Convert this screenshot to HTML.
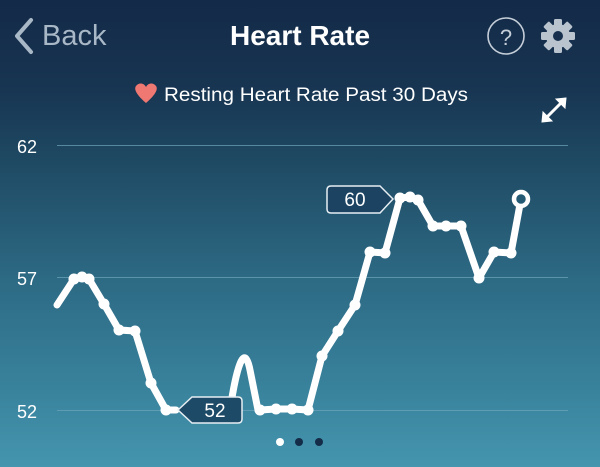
<!DOCTYPE html>
<html><head><style>
html,body{margin:0;padding:0;}
body{width:600px;height:467px;overflow:hidden;background:linear-gradient(180deg,#132a48 0%,#173451 18%,#1f4a64 35%,#2d6a84 60%,#3a849e 85%,#4595ae 100%);font-family:"Liberation Sans",sans-serif;}
svg{position:absolute;left:0;top:0}
</style></head><body>
<svg width="600" height="467" viewBox="0 0 600 467">
<text x="42" y="45" font-size="29" fill="#a9b8c6" font-family="Liberation Sans">Back</text>
<polyline points="31,20 17,36 31,52" fill="none" stroke="#a9b8c6" stroke-width="4" stroke-linecap="round" stroke-linejoin="round"/>
<text x="300" y="45" font-size="28" fill="#fff" font-weight="bold" text-anchor="middle" font-family="Liberation Sans">Heart Rate</text>
<circle cx="506" cy="36" r="18" fill="none" stroke="#c5ced8" stroke-width="1.6"/>
<text x="506" y="45" font-size="22" fill="#c5ced8" text-anchor="middle">?</text>
<g transform="translate(558,36)" fill="#b9c4cf">
<circle r="12"/>
<g><rect x="-4" y="-17" width="8" height="34" rx="1.5"/><rect x="-4" y="-17" width="8" height="34" rx="1.5" transform="rotate(45)"/><rect x="-4" y="-17" width="8" height="34" rx="1.5" transform="rotate(90)"/><rect x="-4" y="-17" width="8" height="34" rx="1.5" transform="rotate(135)"/></g>
<circle r="5" fill="#16304d"/>
</g>
<path d="M146,103 C139,97 133,90 136,86 C139,82 144,83 146,87 C148,83 153,82 156,86 C159,90 153,97 146,103Z" fill="#f07872"/>
<text x="164" y="101" font-size="19" fill="#fff" font-family="Liberation Sans" textLength="304" lengthAdjust="spacingAndGlyphs">Resting Heart Rate Past 30 Days</text>
<g stroke="#fff" stroke-width="3" fill="#fff">
<line x1="545" y1="119" x2="563" y2="101"/>
<polygon points="566,98 556,99 565,108" stroke-width="1"/>
<polygon points="542,122 552,121 543,112" stroke-width="1"/>
</g>
<g stroke="#6fa6bd" stroke-width="1" opacity="0.7">
<line x1="57" y1="145.5" x2="568" y2="145.5"/>
<line x1="57" y1="277.5" x2="568" y2="277.5"/>
<line x1="57" y1="410.5" x2="568" y2="410.5"/>
</g>
<g font-size="18" fill="#fff" font-family="Liberation Sans">
<text x="17" y="153">62</text><text x="17" y="285">57</text><text x="17" y="418">52</text>
</g>
<path d="M57,305 L74,279 L82,277 L89,279 L104,304 L119,330 L135,331 L151,383 L166,410 L176,410 M230,410 C236,370 244,340 250,370 L258,410 L260,410 L276,409 L292,409 L308,410 L322,356 L338,331 L355,305 L370,252 L385,253 L400,198 L410,197 L418,200 L433,226 L446,226 L461,226 L479,278 L494,252 L511,253 L521,199" fill="none" stroke="#fff" stroke-width="7" stroke-linejoin="round" stroke-linecap="round"/>
<g fill="#fff">
<circle cx="74" cy="279" r="5.5"/><circle cx="82" cy="277" r="5.5"/><circle cx="89" cy="279" r="5.5"/><circle cx="104" cy="304" r="5.5"/><circle cx="119" cy="330" r="5.5"/><circle cx="135" cy="331" r="5.5"/><circle cx="151" cy="383" r="5.5"/><circle cx="166" cy="410" r="5.5"/><circle cx="260" cy="410" r="5.5"/><circle cx="276" cy="409" r="5.5"/><circle cx="292" cy="409" r="5.5"/><circle cx="308" cy="410" r="5.5"/><circle cx="322" cy="356" r="5.5"/><circle cx="338" cy="331" r="5.5"/><circle cx="355" cy="305" r="5.5"/><circle cx="370" cy="252" r="5.5"/><circle cx="385" cy="253" r="5.5"/><circle cx="400" cy="198" r="5.5"/><circle cx="410" cy="197" r="5.5"/><circle cx="418" cy="200" r="5.5"/><circle cx="433" cy="226" r="5.5"/><circle cx="446" cy="226" r="5.5"/><circle cx="461" cy="226" r="5.5"/><circle cx="479" cy="278" r="5.5"/><circle cx="494" cy="252" r="5.5"/><circle cx="511" cy="253" r="5.5"/>
</g>
<circle cx="521" cy="199" r="7" fill="#245a74" stroke="#fff" stroke-width="4.5"/>
<path d="M178,410 L192,397 L238,397 Q242,397 242,401 L242,419 Q242,423 238,423 L192,423 Z" fill="#1d4a66" stroke="#e6eef3" stroke-width="1.5"/>
<text x="215" y="417" font-size="19" fill="#fff" text-anchor="middle">52</text>
<path d="M393,199 L380,186 L331,186 Q327,186 327,190 L327,209 Q327,213 331,213 L380,213 Z" fill="#1c4462" stroke="#e6eef3" stroke-width="1.5"/>
<text x="355" y="206" font-size="19" fill="#fff" text-anchor="middle">60</text>
<circle cx="280" cy="442" r="4" fill="#fff"/>
<circle cx="299" cy="442" r="4" fill="#142c48"/>
<circle cx="319" cy="442" r="4" fill="#142c48"/>
</svg>
</body></html>
